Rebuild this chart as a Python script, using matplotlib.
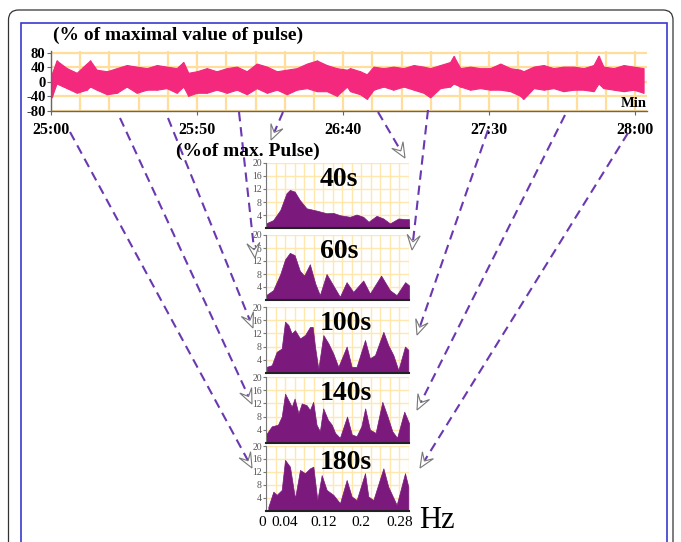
import matplotlib
matplotlib.use('Agg')
import matplotlib.pyplot as plt
import numpy as np
from matplotlib.patches import FancyBboxPatch, Rectangle, Polygon
from matplotlib.lines import Line2D
from matplotlib.ticker import MultipleLocator

plt.rcParams['font.family'] = ['Liberation Serif', 'DejaVu Serif']
plt.rcParams['axes.unicode_minus'] = False

W, H = 681, 542

# Pulse trace envelope (seconds after 25:00, % of maximal pulse)
pulse_t = [0.2, 1.9, 5.4, 8.8, 12.2, 13.4, 15.6, 19.1, 22.5, 25.9, 29.3, 32.8, 36.2, 39.6,
           43.0, 45.3, 47.0, 49.9, 53.3, 56.7, 60.2, 63.6, 67.0, 70.4, 73.9, 77.3, 80.7,
           84.1, 87.6, 91.0, 94.4, 97.8, 101.3, 102.4, 105.8, 108.1, 110.4, 113.8, 117.2,
           120.7, 124.1, 127.5, 129.8, 133.2, 136.6, 137.8, 140.1, 143.5, 146.9, 150.3,
           153.8, 157.2, 160.6, 161.7, 165.2, 168.6, 172.0, 175.4, 178.9, 182.3, 185.7,
           187.4, 189.1, 192.6, 196.0, 199.4, 202.8]
pulse_hi = [20.6, 58.5, 37.5, 24.8, 50.1, 58.5, 33.3, 29.0, 37.5, 46.0, 41.7, 37.5, 46.0, 41.7,
            37.5, 54.3, 24.8, 29.0, 37.5, 29.0, 37.5, 41.7, 29.0, 50.1, 41.7, 29.0, 33.3,
            37.5, 50.1, 58.5, 46.0, 37.5, 33.3, 37.5, 29.0, 20.6, 41.7, 37.5, 41.7,
            37.5, 46.0, 41.7, 37.5, 46.0, 54.3, 71.0, 37.5, 41.7, 37.5, 37.5,
            50.1, 37.5, 33.3, 29.0, 41.7, 46.0, 37.5, 41.7, 41.7, 37.5, 46.0,
            72.0, 41.7, 37.5, 46.0, 41.7, 37.5]
pulse_lo = [-42.5, -4.6, -17.3, -29.9, -21.5, -13.0, -21.5, -34.0, -30.0, -13.0, -30.0, -21.5,
            -21.5, -17.3, -30.0, -13.0, -38.3, -30.0, -30.0, -21.5, -30.0, -21.5, -34.0,
            -17.3, -30.0, -21.5, -34.0, -21.5, -17.3, -25.7, -25.7, -38.3, -13.0, -25.7,
            -34.0, -46.7, -21.5, -13.0, -21.5, -13.0, -21.5, -30.0, -42.5, -17.3, -13.0,
            -4.6, -13.0, -21.5, -17.3, -21.5, -21.5, -25.7, -38.3, -46.7, -17.3, -21.5,
            -17.3, -25.7, -21.5, -21.5, -25.7, -4.6, -17.3, -21.5, -25.7, -21.5, -30.0]

time_ticks = [0, 50, 100, 150, 200]
time_labels = ['25:00', '25:50', '26:40', '27:30', '28:00']
pulse_ticks = [-80, -40, 0, 40, 80]

# Spectra for each window length (Hz, % of max. pulse)
windows = ['40s', '60s', '100s', '140s', '180s']
spec_f = [
    [0, 0.015, 0.03, 0.043, 0.05, 0.06, 0.071, 0.085, 0.106, 0.127, 0.141, 0.155, 0.176,
     0.19, 0.204, 0.215, 0.232, 0.246, 0.26, 0.278, 0.292, 0.3],
    [0, 0.015, 0.03, 0.04, 0.05, 0.06, 0.071, 0.08, 0.092, 0.1035, 0.113, 0.127, 0.141,
     0.155, 0.169, 0.183, 0.204, 0.218, 0.2415, 0.26, 0.274, 0.292, 0.3],
    [0.0015, 0.012, 0.0224, 0.0329, 0.0399, 0.0469, 0.0538, 0.0608, 0.0713, 0.0818, 0.0923,
     0.098, 0.1028, 0.1098, 0.1203, 0.1308, 0.141, 0.1517, 0.1692, 0.1797, 0.19, 0.2077,
     0.218, 0.2287, 0.2462, 0.2566, 0.2671, 0.2776, 0.2916, 0.2986],
    [0, 0.012, 0.025, 0.033, 0.04, 0.047, 0.054, 0.06, 0.068, 0.075, 0.085, 0.092, 0.099,
     0.106, 0.113, 0.12, 0.13, 0.138, 0.145, 0.155, 0.17, 0.18, 0.19, 0.2, 0.208, 0.218,
     0.23, 0.244, 0.255, 0.265, 0.275, 0.29, 0.3],
    [0.0049, 0.0154, 0.0224, 0.0329, 0.0399, 0.0503, 0.0608, 0.0713, 0.0818, 0.0923, 0.0993,
     0.1077, 0.1168, 0.1273, 0.1413, 0.1552, 0.1692, 0.1797, 0.1902, 0.2077, 0.2147,
     0.2252, 0.2462, 0.2566, 0.2741, 0.2916, 0.2986],
]
spec_v = [
    [1.5, 2.5, 5.6, 10.7, 11.7, 11.2, 8.6, 6.1, 5.4, 4.6, 4.7, 4.0, 3.5, 4.2, 3.5, 2.0, 3.8,
     3.0, 1.5, 3.0, 2.8, 2.8],
    [1.5, 3.0, 8.0, 12.5, 14.5, 13.8, 9.0, 7.5, 11.0, 5.0, 1.5, 8.0, 4.5, 1.0, 5.5, 2.5,
     6.0, 2.0, 7.5, 3.0, 1.5, 5.5, 4.5],
    [1.8, 2.3, 6.4, 7.4, 15.6, 14.6, 12.0, 13.0, 10.5, 11.5, 14.0, 14.0, 8.0, 1.2, 11.5,
     9.0, 5.9, 1.8, 8.0, 1.8, 1.8, 10.0, 4.4, 5.4, 12.5, 8.4, 5.4, 0.8, 8.0, 7.0],
    [2.5, 5.0, 5.5, 8.0, 15.0, 13.0, 11.0, 13.5, 9.0, 12.0, 11.5, 10.0, 12.5, 5.5, 3.5,
     10.5, 7.0, 5.5, 3.0, 1.5, 8.0, 2.5, 2.0, 5.0, 10.5, 4.0, 3.0, 12.5, 8.0, 3.5, 1.5,
     9.5, 6.0],
    [1.2, 5.9, 4.9, 6.4, 15.7, 13.6, 3.8, 12.6, 11.6, 13.1, 13.6, 3.3, 11.0, 6.4, 4.9, 2.3,
     9.5, 4.4, 3.3, 11.6, 4.4, 3.3, 13.1, 7.4, 1.8, 11.6, 7.4],
]
freq_ticks = [0, 0.04, 0.12, 0.2, 0.28]
freq_labels = ['0', '0.04', '0.12', '0.2', '0.28']

pink = '#F4287C'
purple = '#7B197C'
grid_top = '#FFDD9A'
grid_panel = '#FFE7AE'
dash_col = '#6A38B0'

fig = plt.figure(figsize=(W / 100, H / 100), dpi=100)


def px_axes(left, top, right, bottom):
    return fig.add_axes([left / W, 1 - bottom / H, (right - left) / W, (bottom - top) / H])


def inch(x, y):
    return x / 100, (H - y) / 100


# frames
x0, y0 = inch(8.5, 10)
x1, y1 = inch(673, 560)
fig.patches.append(FancyBboxPatch((x0, y1), x1 - x0, y0 - y1,
                                  boxstyle='round,pad=0,rounding_size=0.1',
                                  transform=fig.dpi_scale_trans, fill=False,
                                  ec='#333333', lw=0.9))
x0, y0 = inch(20.5, 23)
x1, y1 = inch(667, 560)
fig.patches.append(Rectangle((x0, y1), x1 - x0, y0 - y1, transform=fig.dpi_scale_trans,
                             fill=False, ec='#3A3AD0', lw=1.2))

# pulse trace band
ax = px_axes(51, 51.2, 647, 111)
ax.fill_between(pulse_t, pulse_lo, pulse_hi, color=pink, lw=0.8)
ax.vlines(pulse_t, pulse_lo, pulse_hi, color=pink, lw=1.0)
ax.set_xlim(0, 204)
ax.set_ylim(-80, 84)
ax.set_xticks(time_ticks)
ax.set_xticklabels(time_labels)
ax.set_yticks(pulse_ticks)
ax.xaxis.set_minor_locator(MultipleLocator(10))
ax.grid(which='both', axis='x', color=grid_top, lw=1.6)
ax.grid(which='major', axis='y', color=grid_top, lw=1.6)
ax.set_axisbelow(True)
for s in ['top', 'right']:
    ax.spines[s].set_visible(False)
for s in ['left', 'bottom']:
    ax.spines[s].set_color('#666666')
    ax.spines[s].set_linewidth(1.0)
ax.tick_params(which='minor', length=0)
ax.tick_params(axis='x', length=3, pad=5, labelsize=11.5, color='#666666')
ax.tick_params(axis='y', length=3, pad=1, labelsize=10.5, color='#666666')
for lab in ax.get_xticklabels() + ax.get_yticklabels():
    lab.set_fontweight('bold')
ax.text(1.0, 0.01, 'Min', transform=ax.transAxes, ha='right', va='bottom',
        fontsize=10.5, fontweight='bold')

fig.text(53 / W, 1 - 35 / H, '(% of maximal value of pulse)', fontsize=14,
         fontweight='bold', ha='left', va='center')
fig.text(176 / W, 1 - 151 / H, '(%of max. Pulse)', fontsize=14,
         fontweight='bold', ha='left', va='center')

# spectra panels
tops = [162.7, 235, 307.3, 377.3, 446]
bots = [228.3, 300, 372.7, 442.7, 510.7]
for i in range(len(windows)):
    a = px_axes(266, tops[i], 409, bots[i])
    a.fill_between(spec_f[i], 0, spec_v[i], color=purple, lw=0.5)
    a.set_xlim(0, 0.3)
    a.set_ylim(0, 20)
    a.xaxis.set_minor_locator(MultipleLocator(0.02))
    a.set_yticks([4, 8, 12, 16, 20])
    a.grid(which='both', axis='x', color=grid_panel, lw=1.0)
    a.grid(which='major', axis='y', color=grid_panel, lw=1.0)
    a.set_axisbelow(True)
    for s in ['top', 'right']:
        a.spines[s].set_visible(False)
    a.spines['left'].set_color('#777777')
    a.spines['left'].set_linewidth(0.8)
    a.spines['bottom'].set_color('#222222')
    a.spines['bottom'].set_linewidth(1.5)
    a.tick_params(which='minor', length=0)
    a.tick_params(axis='y', length=2, pad=1, labelsize=7, labelcolor='#555555',
                  color='#777777')
    a.set_xticks(freq_ticks)
    if i == len(windows) - 1:
        a.set_xticklabels(freq_labels)
        a.tick_params(axis='x', length=0, pad=4, labelsize=11)
        a.get_xticklabels()[0].set_horizontalalignment('right')
    else:
        a.tick_params(axis='x', length=0, labelbottom=False)
    a.text(0.375, 0.75, windows[i], transform=a.transAxes, fontsize=20,
           fontweight='bold', ha='left', va='center')

fig.text(419 / W, 1 - 521 / H, 'Hz', fontsize=22, ha='left', va='center')

# dashed pointers from the trace to each spectrum
arrows = [
    (70, 132, 252, 468),
    (120, 118, 252, 404),
    (168, 118, 253, 328),
    (239, 112, 255, 258),
    (283, 112, 271, 140),
    (378, 112, 405, 158),
    (428, 110, 412, 250),
    (488, 130, 417, 335),
    (565, 115, 417, 410),
    (628, 133, 420, 468),
]
L, Wd = 15, 6.5
for sx, sy, tx, ty in arrows:
    d = np.array([tx - sx, ty - sy], dtype=float)
    d /= np.hypot(*d)
    n = np.array([-d[1], d[0]])
    tip = np.array([tx, ty], dtype=float)
    end = tip - 0.6 * L * d
    p0 = inch(sx, sy)
    p1 = inch(*end)
    fig.lines.append(Line2D([p0[0], p1[0]], [p0[1], p1[1]], transform=fig.dpi_scale_trans,
                            color=dash_col, lw=1.5, dashes=(4.5, 2.8)))
    pts = [tip, tip - L * d + Wd * n, tip - 0.55 * L * d, tip - L * d - Wd * n]
    fig.patches.append(Polygon([inch(*p) for p in pts], closed=True,
                               transform=fig.dpi_scale_trans, fc='white',
                               ec='#777777', lw=0.8, zorder=5))

fig.savefig('out.png', dpi=100, facecolor='white')
